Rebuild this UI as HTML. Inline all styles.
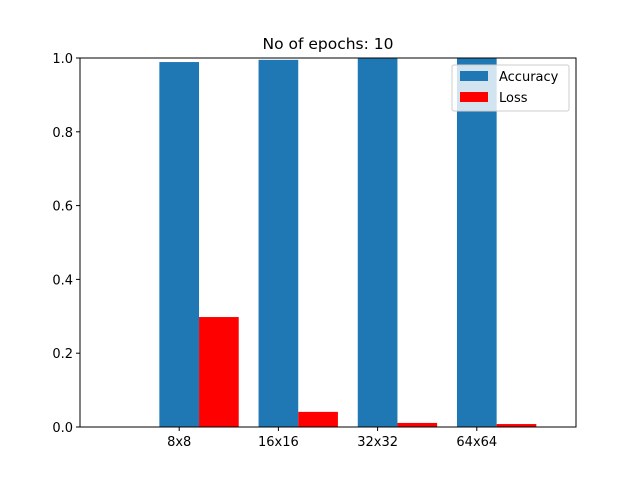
<!DOCTYPE html>
<html><head><meta charset="utf-8"><style>
body{margin:0;background:#fff}
svg{display:block;font-family:"DejaVu Sans","Liberation Sans",sans-serif}
</style></head><body>
<svg id="chart" width="640" height="480">
<rect width="640" height="480" fill="#fff"/>
<text x="328" y="49" font-size="15.5" text-anchor="middle">No of epochs: 10</text>
<g id="bars"></g>
<g id="axes"></g>
<g>
<rect x="452" y="65" width="117" height="46" fill="#fff" fill-opacity="0.8" stroke="#ccc" rx="2"/>
<rect x="460" y="71" width="28" height="10" fill="#1f77b4"/>
<text x="499" y="81" font-size="13">Accuracy</text>
<rect x="460" y="92" width="28" height="10" fill="#ff0000"/>
<text x="499" y="102" font-size="13">Loss</text>
</g>
</svg>
<script>
const categories=["8x8","16x16","32x32","64x64"];
const accuracy=[0.989,0.995,0.999,1.0];
const loss=[0.298,0.041,0.011,0.008];
const yTicks=[0,0.2,0.4,0.6,0.8,1.0];
const L=80,R=576,T=58,B=427;
const xs=v=>L+(v+1)/5*(R-L);
const ys=v=>B-v*(B-T);
const NS="http://www.w3.org/2000/svg";
function mk(t,a,p){const e=document.createElementNS(NS,t);for(const k in a)e.setAttribute(k,a[k]);p.appendChild(e);return e;}
const bars=document.getElementById('bars'),axes=document.getElementById('axes');
categories.forEach((c,i)=>{
 const w=xs(0.4)-xs(0);
 let r=mk('rect',{x:xs(i-0.2),y:ys(accuracy[i]),width:w,height:ys(0)-ys(accuracy[i]),fill:'#1f77b4'},bars);
 
 
 r=mk('rect',{x:xs(i+0.2),y:ys(loss[i]),width:w,height:ys(0)-ys(loss[i]),fill:'#ff0000'},bars);
 
 
 mk('line',{x1:xs(i),x2:xs(i),y1:B,y2:B+4,stroke:'#000'},axes);
 const t=mk('text',{x:xs(i),y:B+19,'font-size':13,'text-anchor':'middle'},axes);
 t.textContent=c;
 
 
});
yTicks.forEach(v=>{
 mk('line',{x1:L-4,x2:L,y1:ys(v),y2:ys(v),stroke:'#000'},axes);
 const t=mk('text',{x:L-7,y:ys(v)+5,'font-size':13,'text-anchor':'end'},axes);
 t.textContent=v.toFixed(1);
 
 
});
const f=mk('rect',{x:L,y:T,width:R-L,height:B-T,fill:'none',stroke:'#000','stroke-width':1},axes);


</script>
</body></html>
